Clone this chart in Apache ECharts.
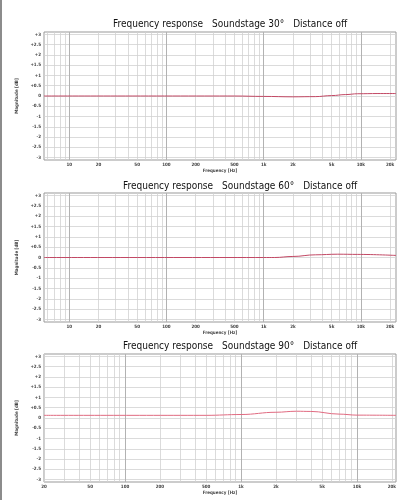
<!DOCTYPE html>
<html>
<head>
<meta charset="utf-8">
<script src="https://cdn.jsdelivr.net/npm/echarts@6/dist/echarts.min.js"></script>
<style>
  html, body { margin: 0; padding: 0; background: #fff; }
  #chart { width: 410px; height: 500px; }
  #edge { position: absolute; left: 0; top: 0; width: 2px; height: 500px; background: #8c8c8c; }
</style>
</head>
<body>
<div id="chart"></div>
<div id="edge"></div>
<script>
// curves: frequency (Hz) -> magnitude (dB)
const freq30 = [5.5, 500, 1000, 2000, 3400, 5000, 7000, 9300, 15000, 23000];
const db30 = [0, 0, -0.02, -0.04, -0.03, 0.02, 0.07, 0.11, 0.12, 0.12];

const freq60 = [5.5, 1000, 1300, 2000, 3400, 5800, 9300, 23000];
const db60 = [0, 0, 0, 0.05, 0.13, 0.16, 0.15, 0.1];

const freq90 = [20, 500, 1000, 2000, 3000, 4000, 7000, 10000, 21700];
const db90 = [0.13, 0.13, 0.17, 0.28, 0.33, 0.32, 0.19, 0.14, 0.13];

// axis ticks
const yTicks = [3, 2.5, 2, 1.5, 1, 0.5, 0, -0.5, -1, -1.5, -2, -2.5, -3];
const labelHzA = [10, 20, 50, 100, 200, 500, 1000, 2000, 5000, 10000, 20000];
const labelHzB = [20, 50, 100, 200, 500, 1000, 2000, 5000, 10000, 20000];
const decadeHz = [10, 100, 1000, 10000];
const gridHzA = [6, 7, 8, 9, 10, 20, 30, 40, 50, 60, 70, 80, 90, 100, 200, 300, 400, 500, 600, 700, 800, 900,
  1000, 2000, 3000, 4000, 5000, 6000, 7000, 8000, 9000, 10000, 20000];
const gridHzB = [20, 30, 40, 50, 60, 70, 80, 90, 100, 200, 300, 400, 500, 600, 700, 800, 900,
  1000, 2000, 3000, 4000, 5000, 6000, 7000, 8000, 9000, 10000, 20000];

const lg = Math.log10;
const small = { fontSize: 4.5, color: "#444", fontWeight: "bold", fontFamily: "Liberation Sans Narrow, DejaVu Sans Condensed, sans-serif" };

function hzLabel(v) {
  const f = Math.round(Math.pow(10, v));
  return f >= 1000 ? f / 1000 + "k" : String(f);
}

const panels = [
  { title: "Frequency response\u2003Soundstage 30°\u2003Distance off", titleLeft: 113, titleTop: 19, top: 32, height: 128,
    minHz: 5.5, maxHz: 23000, gridHz: gridHzA, labelHz: labelHzA, freq: freq30, db: db30, color: "#c24864" },
  { title: "Frequency response\u2003Soundstage 60°\u2003Distance off", titleLeft: 123, titleTop: 181, top: 193, height: 129,
    minHz: 5.5, maxHz: 23000, gridHz: gridHzA, labelHz: labelHzA, freq: freq60, db: db60, color: "#c24864" },
  { title: "Frequency response\u2003Soundstage 90°\u2003Distance off", titleLeft: 123, titleTop: 341, top: 354, height: 128,
    minHz: 20, maxHz: 21700, gridHz: gridHzB, labelHz: labelHzB, freq: freq90, db: db90, color: "#e06a80" },
];

const options = { animation: false, title: [], grid: [], xAxis: [], yAxis: [], series: [] };

panels.forEach((p, i) => {
  options.title.push({
    text: p.title, left: p.titleLeft, top: p.titleTop, padding: 0,
    textStyle: { fontSize: 10, fontWeight: "normal", color: "#111", fontFamily: "Liberation Sans Narrow, DejaVu Sans Condensed, sans-serif" },
  });
  options.grid.push({ left: 44, width: 352, top: p.top, height: p.height, show: true, borderColor: "#999", borderWidth: 1 });

  options.xAxis.push({
    type: "value", gridIndex: i, min: lg(p.minHz), max: lg(p.maxHz),
    axisLine: { show: false },
    axisTick: { show: false, customValues: p.gridHz.map(lg) },
    axisLabel: { customValues: p.labelHz.map(lg), formatter: hzLabel, margin: 2, ...small },
    splitLine: { show: true, lineStyle: { color: "#d2d2d2", width: 0.8 } },
    name: "Frequency [Hz]", nameLocation: "middle", nameGap: 7, nameTextStyle: small,
  });
  options.xAxis.push({
    type: "value", gridIndex: i, min: lg(p.minHz), max: lg(p.maxHz), position: "bottom",
    axisLine: { show: false }, axisLabel: { show: false },
    axisTick: { show: false, customValues: decadeHz.map(lg) },
    splitLine: { show: true, lineStyle: { color: "#b2b2b2", width: 1 } },
  });
  options.yAxis.push({
    type: "value", gridIndex: i, min: -3.12, max: 3.12,
    axisLine: { show: false },
    axisTick: { show: false, customValues: yTicks },
    axisLabel: { customValues: yTicks, formatter: (v) => (v > 0 ? "+" + v : String(v)), margin: 3, ...small },
    splitLine: { show: true, lineStyle: { color: "#d2d2d2", width: 0.8 } },
    name: "Magnitude [dB]", nameLocation: "middle", nameGap: 12, nameRotate: 90, nameTextStyle: small,
  });
  options.series.push({
    type: "line", xAxisIndex: 2 * i, yAxisIndex: i,
    data: p.freq.map((f, k) => [lg(f), p.db[k]]),
    symbol: "none", smooth: 0.4, smoothMonotone: "x", silent: true,
    lineStyle: { color: p.color, width: 1 },
  });
});

const chart = echarts.init(document.querySelector("#chart"));
chart.setOption(options);
</script>
</body>
</html>
